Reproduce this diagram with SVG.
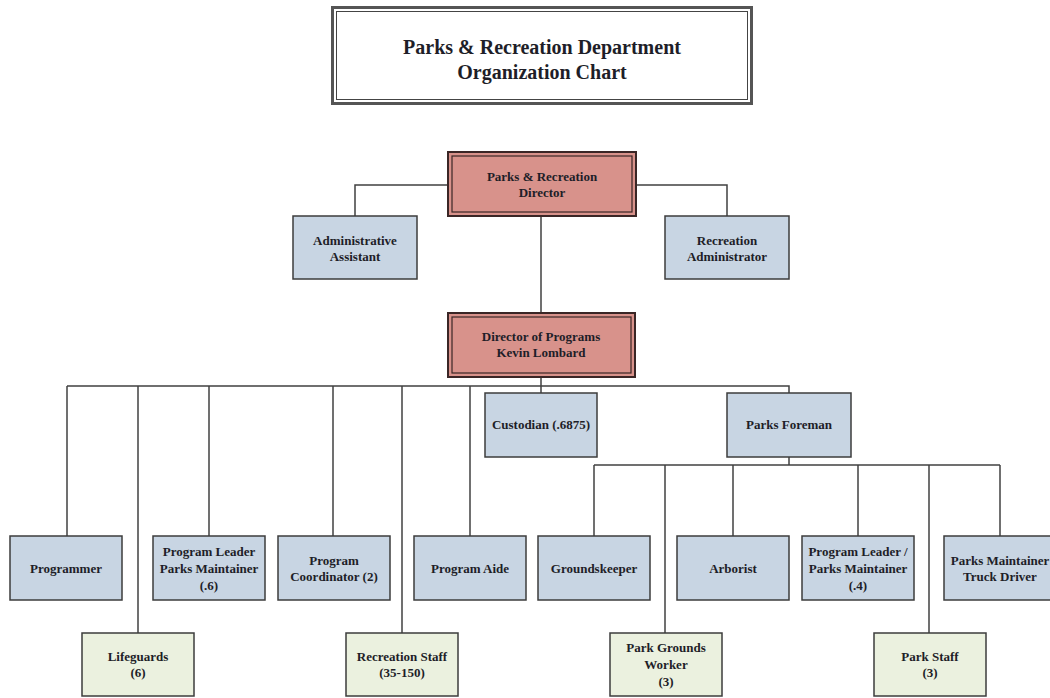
<svg xmlns="http://www.w3.org/2000/svg" width="1050" height="698" viewBox="0 0 1050 698">
  <style>
    .t { font-family: "Liberation Serif", "Times New Roman", serif; font-weight: bold; font-size: 13px; fill: #1e1e28; text-anchor: middle; }
    .title { font-size: 20px; }
    .blue { fill: #c8d5e3; stroke: #3c3c3c; stroke-width: 1.5; }
    .green { fill: #ebf1df; stroke: #3c3c3c; stroke-width: 1.5; }
    .red { fill: #d8928b; stroke: #3a2626; stroke-width: 2; }
    .redin { fill: none; stroke: #3a2626; stroke-width: 1.2; }
    .wire { fill: none; stroke: #404040; stroke-width: 1.5; }
  </style>

  <!-- title banner -->
  <g id="title">
    <rect x="332.5" y="7.5" width="419" height="96" fill="#ffffff" stroke="#555555" stroke-width="3"/>
    <rect x="336.5" y="11.5" width="411" height="88" fill="none" stroke="#444444" stroke-width="1"/>
    <text class="t title" x="542" y="54">Parks &amp; Recreation Department</text>
    <text class="t title" x="542" y="79">Organization Chart</text>
  </g>

  <!-- reporting lines -->
  <g id="connectors" class="wire">
    <path d="M448,185 H355 V216"/>
    <path d="M636,185 H727 V216"/>
    <path d="M541,216 V313"/>
    <path d="M541,377 V393"/>
    <path d="M67,386 H789 V393"/>
    <path d="M67,386 V536"/>
    <path d="M138,386 V633"/>
    <path d="M209,386 V536"/>
    <path d="M333,386 V536"/>
    <path d="M402,386 V633"/>
    <path d="M470,386 V536"/>
    <path d="M789,457 V465"/>
    <path d="M594,465 H1000"/>
    <path d="M594,465 V536"/>
    <path d="M665,465 V633"/>
    <path d="M733,465 V536"/>
    <path d="M858,465 V536"/>
    <path d="M929,465 V633"/>
    <path d="M1000,465 V536"/>
  </g>

  <g id="director">
    <rect class="red" x="448" y="152" width="188" height="64"/>
    <rect class="redin" x="452" y="156" width="180" height="56"/>
    <text class="t" x="542" y="181">Parks &amp; Recreation</text>
    <text class="t" x="542" y="197">Director</text>
  </g>

  <g id="admin-assistant">
    <rect class="blue" x="293" y="216" width="124" height="63"/>
    <text class="t" x="355" y="245">Administrative</text>
    <text class="t" x="355" y="261">Assistant</text>
  </g>

  <g id="recreation-administrator">
    <rect class="blue" x="665" y="216" width="124" height="63"/>
    <text class="t" x="727" y="245">Recreation</text>
    <text class="t" x="727" y="261">Administrator</text>
  </g>

  <g id="director-of-programs">
    <rect class="red" x="448" y="313" width="187" height="64"/>
    <rect class="redin" x="452" y="317" width="179" height="56"/>
    <text class="t" x="541" y="341">Director of Programs</text>
    <text class="t" x="541" y="357">Kevin Lombard</text>
  </g>

  <g id="custodian">
    <rect class="blue" x="485" y="393" width="112" height="64"/>
    <text class="t" x="541" y="429">Custodian (.6875)</text>
  </g>

  <g id="parks-foreman">
    <rect class="blue" x="727" y="393" width="124" height="64"/>
    <text class="t" x="789" y="429">Parks Foreman</text>
  </g>

  <g id="programmer">
    <rect class="blue" x="10" y="536" width="112" height="64"/>
    <text class="t" x="66" y="573">Programmer</text>
  </g>

  <g id="program-leader-1">
    <rect class="blue" x="153" y="536" width="112" height="64"/>
    <text class="t" x="209" y="556">Program Leader</text>
    <text class="t" x="209" y="573">Parks Maintainer</text>
    <text class="t" x="209" y="590">(.6)</text>
  </g>

  <g id="program-coordinator">
    <rect class="blue" x="278" y="536" width="112" height="64"/>
    <text class="t" x="334" y="565">Program</text>
    <text class="t" x="334" y="581">Coordinator (2)</text>
  </g>

  <g id="program-aide">
    <rect class="blue" x="414" y="536" width="112" height="64"/>
    <text class="t" x="470" y="573">Program Aide</text>
  </g>

  <g id="groundskeeper">
    <rect class="blue" x="538" y="536" width="112" height="64"/>
    <text class="t" x="594" y="573">Groundskeeper</text>
  </g>

  <g id="arborist">
    <rect class="blue" x="677" y="536" width="112" height="64"/>
    <text class="t" x="733" y="573">Arborist</text>
  </g>

  <g id="program-leader-2">
    <rect class="blue" x="802" y="536" width="112" height="64"/>
    <text class="t" x="858" y="556">Program Leader /</text>
    <text class="t" x="858" y="573">Parks Maintainer</text>
    <text class="t" x="858" y="590">(.4)</text>
  </g>

  <g id="truck-driver">
    <rect class="blue" x="944" y="536" width="112" height="64"/>
    <text class="t" x="1000" y="565">Parks Maintainer</text>
    <text class="t" x="1000" y="581">Truck Driver</text>
  </g>

  <g id="lifeguards">
    <rect class="green" x="82" y="633" width="112" height="63"/>
    <text class="t" x="138" y="661">Lifeguards</text>
    <text class="t" x="138" y="677">(6)</text>
  </g>

  <g id="recreation-staff">
    <rect class="green" x="346" y="633" width="112" height="63"/>
    <text class="t" x="402" y="661">Recreation Staff</text>
    <text class="t" x="402" y="677">(35-150)</text>
  </g>

  <g id="park-grounds-worker">
    <rect class="green" x="610" y="633" width="112" height="63"/>
    <text class="t" x="666" y="652">Park Grounds</text>
    <text class="t" x="666" y="669">Worker</text>
    <text class="t" x="666" y="686">(3)</text>
  </g>

  <g id="park-staff">
    <rect class="green" x="874" y="633" width="112" height="63"/>
    <text class="t" x="930" y="661">Park Staff</text>
    <text class="t" x="930" y="677">(3)</text>
  </g>
</svg>
